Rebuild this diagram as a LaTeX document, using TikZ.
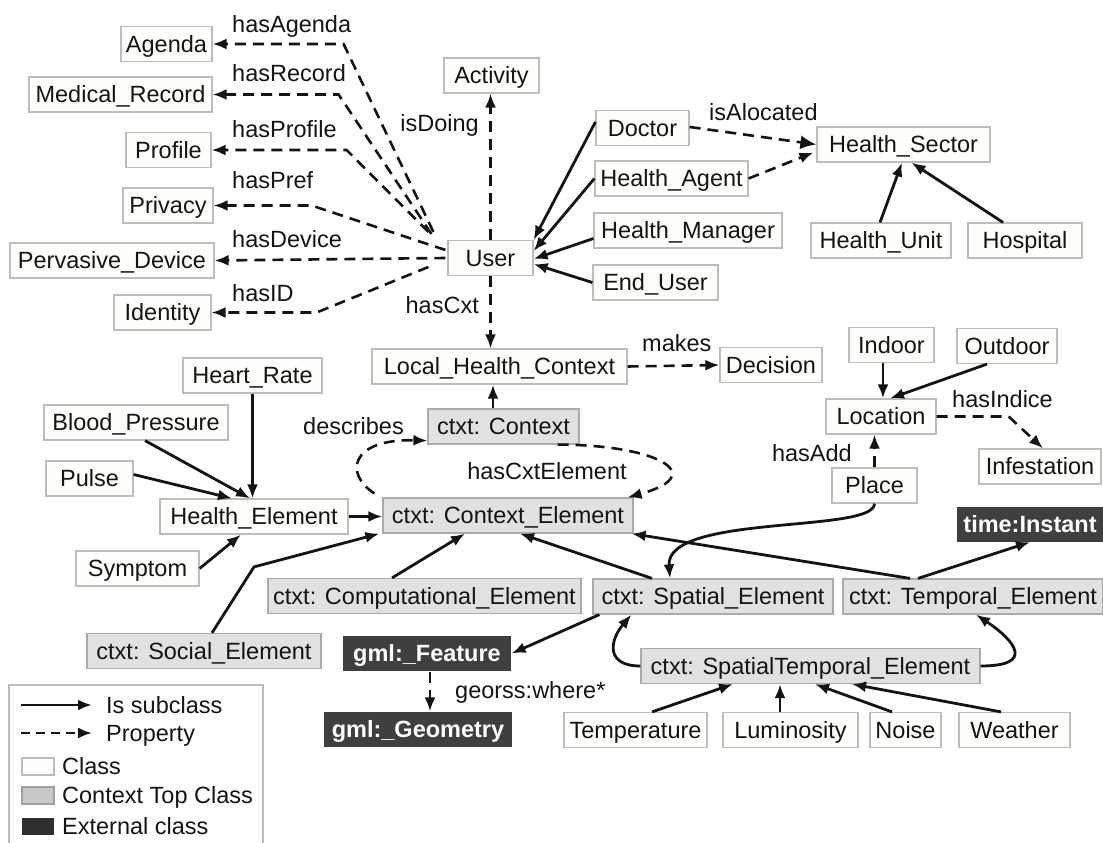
\documentclass[tikz,border=0pt]{standalone}
\usepackage{fontspec}
\setmainfont{Liberation Sans}
\usetikzlibrary{arrows.meta,calc}
\definecolor{clsFill}{HTML}{FEFEFB}
\definecolor{clsLine}{HTML}{BDBDBD}
\definecolor{ctxFill}{HTML}{E1E1E1}
\definecolor{ctxLine}{HTML}{ABABAB}
\definecolor{extFill}{HTML}{3F3F3F}
\definecolor{inkBlack}{HTML}{141414}
\definecolor{legCtx}{HTML}{C8C8C8}
\definecolor{legExt}{HTML}{2F2F2F}

\begin{document}
\begin{tikzpicture}[
  x=1pt, y=-1pt,
  font=\fontsize{23.5}{27}\selectfont,
  >={Latex[length=14pt,width=11pt]},
  %% Box styles
  clsbox/.style={
    draw=clsLine, fill=clsFill, line width=1.2pt,
    minimum height=35pt, inner sep=0pt,
    text height=16.8pt, text depth=0pt, text=inkBlack
  },
  ctxbox/.style={clsbox, draw=ctxLine, fill=ctxFill},
  extbox/.style={clsbox, draw=none, fill=extFill, text=white,
                 font=\fontsize{23.5}{27}\selectfont\bfseries},
  plabel/.style={inner sep=0pt, text height=16.8pt, text depth=0pt,
                 text=inkBlack},
  %% Arrow styles
  subarrow/.style={->, line width=2.8pt, draw=inkBlack},
  proparrow/.style={subarrow, line width=2.6pt, dash pattern=on 11pt off 7pt},
]
\useasboundingbox (0,0) rectangle (1103,843);

%% ── User and its properties ───────────────────────────────────────────────
\node[clsbox, minimum width=85pt]  (user)      at (490.5,258)  {User};
\node[clsbox, minimum width=95pt]  (activity)  at (491.5,75.5) {Activity};
\node[clsbox, minimum width=91pt]  (agenda)    at (166.5,44)   {Agenda};
\node[clsbox, minimum width=183pt] (medrecord) at (120.5,94.5) {Medical\_Record};
\node[clsbox, minimum width=85pt]  (profile)   at (168.5,150)  {Profile};
\node[clsbox, minimum width=90pt]  (privacy)   at (168,205.5)  {Privacy};
\node[clsbox, minimum width=204pt] (device)    at (112,260.5)  {Pervasive\_Device};
\node[clsbox, minimum width=97pt]  (identity)  at (162.5,312.5){Identity};

\node[plabel, anchor=west] (lagenda)  at (232,24)  {hasAgenda};
\node[plabel, anchor=west] (lrecord)  at (232,73)  {hasRecord};
\node[plabel, anchor=west] (lprofile) at (232,129) {hasProfile};
\node[plabel, anchor=west] (lpref)    at (232,180) {hasPref};
\node[plabel, anchor=west] (ldevice)  at (232,239) {hasDevice};
\node[plabel, anchor=west] (lid)      at (232,293) {hasID};
\node[plabel, anchor=east] (ldoing)   at (479,123) {isDoing};
\node[plabel, anchor=east] (lcxt)     at (479,305) {hasCxt};

\draw[proparrow] ($(user.north west)+(-14,-8)$) -- ([xshift=131pt]agenda.east) -- (agenda.east);
\draw[proparrow] ($(user.north west)+(-16,-6)$) -- ([xshift=126pt]medrecord.east) -- (medrecord.east);
\draw[proparrow] ($(user.north west)+(-19,-8)$) -- ([xshift=135pt]profile.east) -- (profile.east);
\draw[proparrow] ($(user.west)+(-2,-8)$) -- ([xshift=98pt]privacy.east) -- (privacy.east);
\draw[proparrow] ($(user.west)+(-2,0)$) -- (device.east);
\draw[proparrow] ($(user.west)+(-19,9)$) -- ([xshift=105pt]identity.east) -- (identity.east);
\draw[proparrow] (user.north) -- (user.north |- activity.south);

%% ── Health staff and sectors ──────────────────────────────────────────────
\node[clsbox, minimum width=93pt]  (doctor)   at (642.5,128)  {Doctor};
\node[clsbox, minimum width=153pt] (hagent)   at (671.5,178.5){Health\_Agent};
\node[clsbox, minimum width=188pt] (hmanager) at (688,230.5)  {Health\_Manager};
\node[clsbox, minimum width=125pt] (enduser)  at (655.5,282.5){End\_User};
\node[clsbox, minimum width=173pt] (hsector)  at (903.5,144.5){Health\_Sector};
\node[clsbox, minimum width=140pt] (hunit)    at (881,240.5)  {Health\_Unit};
\node[clsbox, minimum width=114pt] (hospital) at (1025,240.5) {Hospital};
\node[plabel, anchor=west] (lalocated) at (709,112) {isAlocated};

\draw[subarrow] ($(doctor.west)+(0,-6)$) -- (user.north east);
\draw[subarrow] (hagent.west) -- ($(user.east)+(0,-7)$);
\draw[subarrow] ($(hmanager.west)+(0,8)$) -- ($(user.east)+(0,1)$);
\draw[subarrow] (enduser.west) -- ($(user.east)+(0,6)$);
\draw[proparrow, >={Latex[length=16pt,width=14pt]}] ($(doctor.east)+(0,-1)$) -- (hsector.west);
\draw[proparrow] (hagent.east) -- ($(hsector.west)+(-3,8)$);
\draw[subarrow] ($(hunit.north)+(-1,0)$) -- ($(hsector.south)+(-1.5,0)$);
\draw[subarrow] ($(hospital.north)+(-22,0)$) -- ($(hsector.south)+(8,0)$);

%% ── Local health context ──────────────────────────────────────────────────
\node[clsbox, minimum width=255pt] (lhc)      at (499.5,366.5) {Local\_Health\_Context};
\node[clsbox, minimum width=102pt] (decision) at (771,365)     {Decision};
\node[ctxbox, minimum width=151pt] (context)  at (503.5,426.5) {ctxt: Context};
\node[ctxbox, minimum width=250pt] (cxtel)    at (508,515.5)   {ctxt: Context\_Element};
\node[plabel, anchor=west] (lmakes)     at (642,343) {makes};
\node[plabel, anchor=east] (ldescribes) at (404,426) {describes};
\node[plabel]              (lcxtel)     at (547,471) {hasCxtElement};

\draw[proparrow] (user.south) -- (user.south |- lhc.north);
\draw[proparrow] (lhc.east) -- (decision.west);
\draw[subarrow] ($(context.north)+(-10.5,0)$) -- ($(lhc.south)+(-6.5,0)$);
\draw[proparrow] ($(cxtel.north west)+(-8,-4)$) .. controls +(-30,-19) and +(-78,-2) .. ($(context.south west)+(0,-4)$);
\draw[proparrow] ($(context.south east)+(-22,0)$) .. controls +(98,0) and +(84,-23) .. ($(cxtel.north east)+(-6,0)$);

%% ── Location ──────────────────────────────────────────────────────────────
\node[clsbox, minimum width=85pt]  (indoor)   at (891.5,345)   {Indoor};
\node[clsbox, minimum width=100pt] (outdoor)  at (1007,346)    {Outdoor};
\node[clsbox, minimum width=110pt] (location) at (881,416.5)   {Location};
\node[clsbox, minimum width=122pt] (infest)   at (1040,466.5)  {Infestation};
\node[clsbox, minimum width=85pt]  (place)    at (874.5,485.5) {Place};
\node[plabel, anchor=west] (lindice) at (952,399) {hasIndice};
\node[plabel, anchor=east] (ladd)    at (852,453) {hasAdd};

\draw[subarrow] ($(indoor.south)+(-8.5,0)$) -- ($(location.north)+(2,0)$);
\draw[subarrow] ($(outdoor.south)+(-20,0)$) -- ($(location.north)+(9,0)$);
\draw[proparrow] (location.east) -- ++(72,0) -- ($(infest.north)+(3,0)$);
\draw[proparrow] (place.north) -- (place.north |- location.south);

%% ── Health elements ───────────────────────────────────────────────────────
\node[clsbox, minimum width=139pt] (heartrate) at (252.5,375.5) {Heart\_Rate};
\node[clsbox, minimum width=184pt] (bloodp)    at (136,422.5)   {Blood\_Pressure};
\node[clsbox, minimum width=87pt]  (pulse)     at (89.5,478.5)  {Pulse};
\node[clsbox, minimum width=188pt] (helement)  at (254,516.5)   {Health\_Element};
\node[clsbox, minimum width=123pt] (symptom)   at (137.5,568.5) {Symptom};

\draw[subarrow] (heartrate.south) -- (heartrate.south |- helement.north);
\draw[subarrow] ($(bloodp.south)+(9,0)$) -- ($(helement.north)+(-4,0)$);
\draw[subarrow] ($(pulse.east)+(0,-4)$) -- ($(helement.north)+(-22,0)$);
\draw[subarrow] (symptom.east) -- ($(helement.south)+(-13,0)$);
\draw[subarrow] (helement.east) -- (cxtel.west |- helement.east);

%% ── Context elements ──────────────────────────────────────────────────────
\node[ctxbox, minimum width=313pt] (comp)     at (424.5,596) {ctxt: Computational\_Element};
\node[ctxbox, minimum width=240pt] (spatial)  at (713,596.5) {ctxt: Spatial\_Element};
\node[ctxbox, minimum width=260pt] (temporal) at (973,596.5) {ctxt: Temporal\_Element};
\node[ctxbox, minimum width=234pt] (social)   at (204,651)   {ctxt: Social\_Element};
\node[ctxbox, minimum width=339pt] (sptemp)   at (810.5,666) {ctxt: SpatialTemporal\_Element};

\node[extbox, minimum width=168pt] (feature)  at (427,653.5) {gml:\_Feature};
\node[extbox, minimum width=188pt] (geometry) at (418,729.5) {gml:\_Geometry};
\node[extbox, minimum width=146pt] (instant)  at (1030,524)  {time:Instant};
\node[plabel, anchor=west] (lwhere) at (455,690) {georss:where*};

\draw[subarrow] ($(social.north)+(8,0)$) -- ++(42,-66) -- ($(cxtel.south west)+(-3,0)$);
\draw[subarrow] ($(comp.north)+(-32.5,0)$) -- ($(cxtel.south)+(-43,0)$);
\draw[subarrow] ($(spatial.north)+(-61,0)$) -- ($(cxtel.south)+(12,0)$);
\draw[subarrow] ($(temporal.north)+(-63,0)$) -- ($(cxtel.south east)+(-2,0)$);
\draw[subarrow] ($(temporal.north)+(-55,0)$) -- (instant.south);
\draw[subarrow] (place.south) .. controls +(0,30) and +(-5,-65) .. ($(spatial.north)+(-43,0)$);
\draw[subarrow] ($(spatial.south west)+(7,0)$) -- (feature.east);
\draw[proparrow] ($(feature.south)+(3,0)$) -- ($(geometry.north)+(12,0)$);
\draw[subarrow] (sptemp.west) .. controls +(-35,0) and +(-22,26) .. ($(spatial.south west)+(39,0)$);
\draw[subarrow] (sptemp.east) .. controls +(55,0) and +(39,26) .. ($(temporal.south)+(3,0)$);

%% ── Sensed classes ────────────────────────────────────────────────────────
\node[clsbox, minimum width=143pt] (temperature) at (635.5,730)  {Temperature};
\node[clsbox, minimum width=135pt] (luminosity)  at (790.5,730)  {Luminosity};
\node[clsbox, minimum width=71pt]  (noise)       at (905.5,730)  {Noise};
\node[clsbox, minimum width=111pt] (weather)     at (1014.5,730) {Weather};

\draw[subarrow] ($(temperature.north)+(16.5,0)$) -- ($(sptemp.south)+(-77.5,0)$);
\draw[subarrow] ($(luminosity.north)+(-10.5,0)$) -- ($(sptemp.south)+(-30.5,0)$);
\draw[subarrow] ($(noise.north)+(-13.5,0)$) -- ($(sptemp.south)+(4.5,0)$);
\draw[subarrow] ($(weather.north)+(-13.5,0)$) -- ($(sptemp.south)+(41.5,0)$);

%% ── Legend ────────────────────────────────────────────────────────────────
\draw[clsLine, line width=1.2pt] (9,850) -- (9,685) -- (263,685) -- (263,850);
\node[plabel, anchor=west] (lgsub)  at (106,705) {Is subclass};
\node[plabel, anchor=west] (lgprop) at (106,733) {Property};
\coordinate (lgsubstart)  at (21,705);
\coordinate (lgpropstart) at (21,733);
\draw[subarrow]  (lgsubstart)  -- ($(lgsub.west)+(-14,0)$);
\draw[proparrow, dash pattern=on 9pt off 6pt] (lgpropstart) -- ($(lgprop.west)+(-14,0)$);
\node[clsbox, minimum width=32pt, minimum height=17pt] (lgclsbox) at (38,766.5) {};
\node[clsbox, draw=legCtx!80!black, fill=legCtx, minimum width=32pt, minimum height=17pt] (lgctxbox) at (38,795.5) {};
\node[clsbox, draw=none, fill=legExt, minimum width=32pt, minimum height=17pt] (lgextbox) at (38,826.5) {};
\node[plabel, anchor=west] (lgcls) at (62,766) {Class};
\node[plabel, anchor=west] (lgctx) at (62,795) {Context Top Class};
\node[plabel, anchor=west] (lgext) at (62,826) {External class};

\end{tikzpicture}
\end{document}
